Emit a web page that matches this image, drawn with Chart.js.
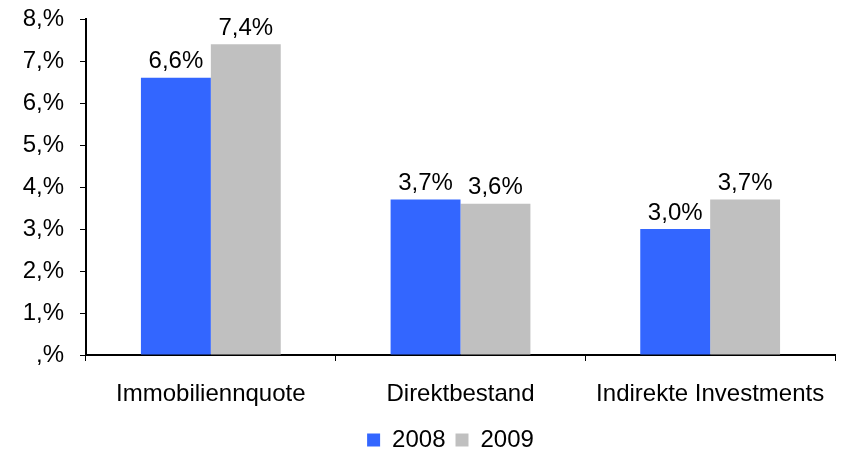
<!DOCTYPE html>
<html>
<head>
<meta charset="utf-8">
<script src="https://cdn.jsdelivr.net/npm/chart.js@4/dist/chart.umd.min.js"></script>
<style>
  html, body { margin: 0; padding: 0; background: #fff; }
  #wrap { width: 845px; height: 453px; }
</style>
</head>
<body>
<div id="wrap"><canvas id="c"></canvas></div>
<script>
const categories = ['Immobiliennquote', 'Direktbestand', 'Indirekte Investments'];
const values2008 = [6.6, 3.7, 3.0];
const values2009 = [7.4, 3.6, 3.7];
const seriesNames = ['2008', '2009'];
const yTicks = [0, 1, 2, 3, 4, 5, 6, 7, 8];

const FONT = 'Liberation Sans, Arial, sans-serif';
const FS = 24;

const fmtPct = v => v.toFixed(1).replace('.', ',') + '%';

// Writes each bar's value just above its top edge
const valueLabels = {
  id: 'valueLabels',
  afterDatasetsDraw(chart) {
    const ctx = chart.ctx;
    ctx.save();
    ctx.font = FS + 'px ' + FONT;
    ctx.fillStyle = '#000';
    ctx.textAlign = 'center';
    ctx.textBaseline = 'bottom';
    chart.data.datasets.forEach((ds, i) => {
      chart.getDatasetMeta(i).data.forEach((bar, j) => {
        ctx.fillText(fmtPct(ds.data[j]), bar.x, bar.y - 4);
      });
    });
    ctx.restore();
  }
};

// Centres the legend under the plot area rather than the whole canvas
const legendUnderPlot = {
  id: 'legendUnderPlot',
  afterLayout(chart) {
    const lg = chart.legend;
    if (!lg) return;
    const shift = (chart.chartArea.left + chart.chartArea.right) / 2 - (lg.left + lg.right) / 2 - 10;
    lg.left += shift;
    lg.right += shift;
  }
};

new Chart(document.getElementById('c'), {
  type: 'bar',
  data: {
    labels: categories,
    datasets: [
      { label: seriesNames[0], data: values2008, backgroundColor: '#3366FF' },
      { label: seriesNames[1], data: values2009, backgroundColor: '#C0C0C0' }
    ]
  },
  options: {
    responsive: true,
    maintainAspectRatio: false,
    animation: false,
    layout: { padding: { top: 19, right: 10, left: 0, bottom: -9 } },
    datasets: { bar: { categoryPercentage: 0.56, barPercentage: 1.0 } },
    scales: {
      x: {
        afterFit: s => { s.height = 63; },
        grid: { offset: true, drawOnChartArea: false, color: '#000', tickLength: 6, lineWidth: 1 },
        border: { color: '#000', width: 2 },
        ticks: { color: '#000', font: { family: FONT, size: FS }, padding: 19 }
      },
      y: {
        min: 0, max: 8,
        afterBuildTicks: s => { s.ticks = yTicks.map(v => ({ value: v })); },
        afterFit: s => { s.width = 86; s.paddingTop = 0; s.paddingBottom = 0; },
        grid: { drawOnChartArea: false, color: '#000', tickLength: 6, lineWidth: 1 },
        border: { color: '#000', width: 2 },
        ticks: {
          color: '#000',
          font: { family: FONT, size: FS },
          padding: 16,
          callback: v => (v === 0 ? '' : String(v)) + ',%'
        }
      }
    },
    plugins: {
      legend: {
        position: 'bottom',
        labels: {
          color: '#000',
          font: { family: FONT, size: FS },
          boxWidth: 13, boxHeight: 13, padding: 10
        }
      },
      tooltip: { enabled: false }
    }
  },
  plugins: [valueLabels, legendUnderPlot]
});
</script>
</body>
</html>
